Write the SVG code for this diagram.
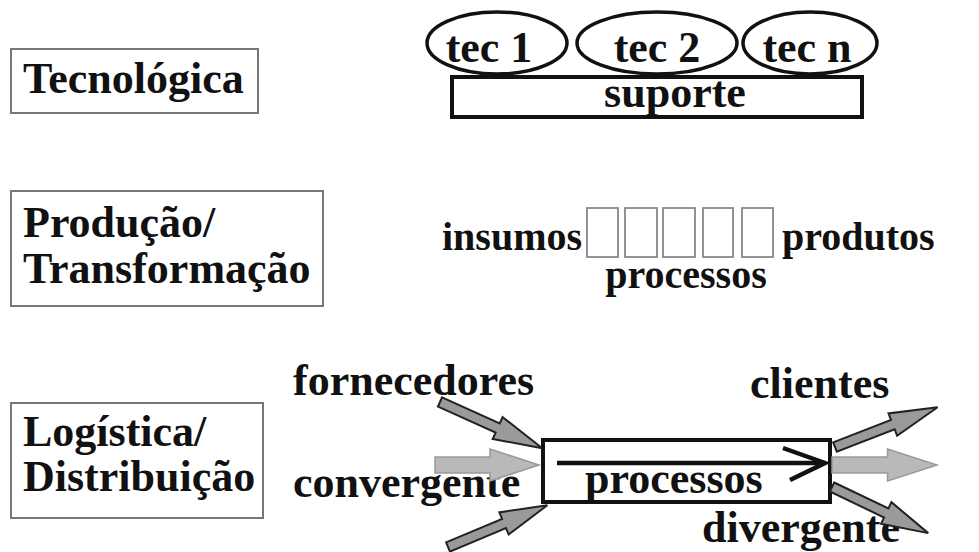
<svg xmlns="http://www.w3.org/2000/svg" width="979" height="552" viewBox="0 0 979 552">
  <style>
    .t { font-family: "Liberation Serif", "Times New Roman", serif; font-weight: bold; fill: #111; }
    .big { font-size: 44px; }
    .mid { font-size: 40px; }
    .label-box { fill: #fff; stroke: #777; stroke-width: 2; }
    .heavy { fill: #fff; stroke: #111; stroke-width: 4; }
    .oval { fill: #fff; stroke: #111; stroke-width: 3.5; }
    .step { fill: #fff; stroke: #888; stroke-width: 1.8; }
    .flow { fill: none; stroke: #111; stroke-width: 4.5; }
    .blk-diag { fill: #9a9a9a; stroke: #222; stroke-width: 2; }
    .blk-flat { fill: #b9b9b9; stroke: #999; stroke-width: 1.5; }
  </style>
  <defs>
    <!-- block arrows, tail at origin pointing along +x -->
    <polygon id="arrowDiag" points="0,-5 62,-5 62,-12 110,0 62,12 62,5 0,5"/>
    <polygon id="arrowFlat" points="0,-8 55,-8 55,-16 104,0 55,16 55,8 0,8"/>
  </defs>

  <rect width="979" height="552" fill="#fff"/>

  <!-- row labels -->
  <g id="label-tecnologica">
    <rect class="label-box" x="11" y="49" width="247" height="64"/>
    <text class="t big" x="23" y="93">Tecnológica</text>
  </g>
  <g id="label-producao">
    <rect class="label-box" x="11" y="191" width="312" height="115"/>
    <text class="t big" x="23" y="237">Produção/</text>
    <text class="t big" x="23" y="283">Transformação</text>
  </g>
  <g id="label-logistica">
    <rect class="label-box" x="11" y="403" width="252" height="115"/>
    <text class="t big" x="23" y="446">Logística/</text>
    <text class="t big" x="23" y="491">Distribuição</text>
  </g>

  <!-- technology layer -->
  <g id="suporte">
    <rect class="heavy" x="452" y="77" width="410" height="40"/>
    <text class="t big" x="675" y="107" text-anchor="middle">suporte</text>
  </g>
  <g id="tec1">
    <ellipse class="oval" cx="497" cy="43" rx="70" ry="31"/>
    <text class="t big" x="489" y="62" text-anchor="middle">tec 1</text>
  </g>
  <g id="tec2">
    <ellipse class="oval" cx="657" cy="43" rx="80" ry="31"/>
    <text class="t big" x="657" y="62" text-anchor="middle">tec 2</text>
  </g>
  <g id="tecn">
    <ellipse class="oval" cx="810" cy="43" rx="67" ry="31"/>
    <text class="t big" x="807" y="62" text-anchor="middle">tec n</text>
  </g>

  <!-- production chain -->
  <g id="insumos">
    <text class="t mid" x="442" y="250">insumos</text>
  </g>
  <g id="etapas">
    <rect class="step" x="587" y="208" width="31" height="49"/>
    <rect class="step" x="625" y="208" width="32" height="49"/>
    <rect class="step" x="663" y="208" width="32" height="49"/>
    <rect class="step" x="703" y="208" width="30" height="49"/>
    <rect class="step" x="742" y="208" width="31" height="49"/>
    <text class="t mid" x="686" y="288" text-anchor="middle">processos</text>
  </g>
  <g id="produtos">
    <text class="t mid" x="782" y="250">produtos</text>
  </g>

  <!-- logistics -->
  <g id="fornecedores">
    <text class="t big" x="293" y="395">fornecedores</text>
  </g>
  <g id="convergente">
    <text class="t big" x="293" y="497">convergente</text>
  </g>
  <g id="processos-box">
    <rect class="heavy" x="543" y="440" width="287" height="62"/>
    <text class="t big" x="585" y="493">processos</text>
  </g>
  <g id="clientes">
    <text class="t big" x="750" y="398">clientes</text>
  </g>
  <g id="divergente">
    <text class="t big" x="702" y="542">divergente</text>
  </g>

  <g id="connectors">
    <!-- inbound -->
    <use href="#arrowDiag" class="blk-diag" transform="translate(440,402) rotate(24.3) scale(1.02,1)"/>
    <use href="#arrowFlat" class="blk-flat" transform="translate(435,465)"/>
    <use href="#arrowDiag" class="blk-diag" transform="translate(448,547) rotate(-22.8) scale(0.98,1)"/>
    <!-- outbound -->
    <use href="#arrowDiag" class="blk-diag" transform="translate(835,447) rotate(-21.2)"/>
    <use href="#arrowFlat" class="blk-flat" transform="translate(832,465) scale(1.01,1)"/>
    <use href="#arrowDiag" class="blk-diag" transform="translate(832,487) rotate(25.6) scale(0.97,1)"/>
    <!-- flow through the process -->
    <path class="flow" d="M557,463 H823"/>
    <path class="flow" d="M783,448 L825,463 L790,480"/>
  </g>
</svg>
